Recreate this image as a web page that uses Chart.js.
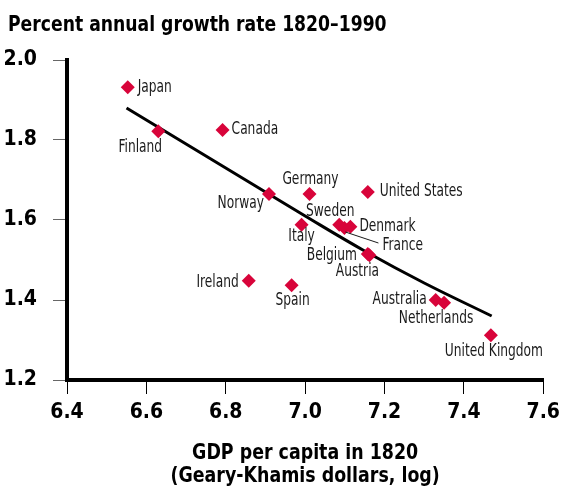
<!DOCTYPE html>
<html>
<head>
<meta charset="utf-8">
<script src="https://cdn.jsdelivr.net/npm/chart.js@4.4.1/dist/chart.umd.min.js"></script>
<style>
  html, body { margin: 0; padding: 0; background: #fff; }
</style>
</head>
<body>
<canvas id="c" width="566" height="489"></canvas>
<script>
// === データ ===
const countries = ["Japan", "Finland", "Canada", "Norway", "Germany", "United States", "Italy",
  "Sweden", "France", "Denmark", "Belgium", "Austria", "Ireland", "Spain",
  "Australia", "Netherlands", "United Kingdom"];
const gdp1820 = [6.553, 6.630, 6.792, 6.909, 7.011, 7.158, 6.991,
  7.086, 7.099, 7.114, 7.158, 7.162, 6.858, 6.966,
  7.329, 7.350, 7.468];
const growth = [1.932, 1.822, 1.825, 1.665, 1.665, 1.670, 1.588,
  1.588, 1.580, 1.583, 1.515, 1.512, 1.448, 1.437,
  1.400, 1.393, 1.312];

// fitted curve
const fitX = [6.55, 6.70, 6.85, 7.00, 7.15, 7.30, 7.47];
const fitY = [1.88, 1.79, 1.70, 1.61, 1.5225, 1.4425, 1.36];

const xTicks = [6.4, 6.6, 6.8, 7.0, 7.2, 7.4, 7.6];
const yTicks = [1.2, 1.4, 1.6, 1.8, 2.0];

const titleText = "Percent annual growth rate 1820\u20131990";
const xTitle = ["GDP per capita in 1820", "(Geary-Khamis dollars, log)"];

// === 見た目 ===
const FONT = '"Liberation Sans Narrow", "DejaVu Sans Condensed", "Liberation Sans", sans-serif';
const RED = "#d8043a";

// label placement relative to the point (px)
const labelPos = {
  "Japan": [10, 0, "left"],
  "Finland": [-18, 16, "center"],
  "Canada": [9, 0, "left"],
  "Norway": [-5, 10, "right"],
  "Germany": [1, -14, "center"],
  "United States": [12, 0, "left"],
  "Italy": [0, 12, "center"],
  "Sweden": [-9, -13, "center"],
  "France": [38, 18, "left"],
  "Denmark": [9, 0, "left"],
  "Belgium": [-36, 2, "center"],
  "Austria": [-12, 16, "center"],
  "Ireland": [-10, 2, "right"],
  "Spain": [1, 15, "center"],
  "Australia": [-9, 0, "right"],
  "Netherlands": [-8, 16, "center"],
  "United Kingdom": [3, 16, "center"]
};

// 横に詰めた文字（細長い書体の代わり）
function narrowText(ctx, text, x, y, align, sx) {
  ctx.save();
  ctx.translate(x, y);
  ctx.scale(sx, 1);
  ctx.textAlign = align;
  ctx.fillText(text, 0, 0);
  ctx.restore();
}

const labelPlugin = {
  id: "labels",
  afterDatasetsDraw(chart) {
    const { ctx, scales: { x, y } } = chart;
    ctx.save();
    ctx.font = "17px " + FONT;
    ctx.fillStyle = "#1a1a1a";
    ctx.textBaseline = "middle";
    countries.forEach((name, i) => {
      const px = x.getPixelForValue(gdp1820[i]);
      const py = y.getPixelForValue(growth[i]);
      const [dx, dy, al] = labelPos[name];
      narrowText(ctx, name, px + dx, py + dy, al, 0.8);
      if (name === "France") {
        ctx.strokeStyle = "#1a1a1a";
        ctx.lineWidth = 1;
        ctx.beginPath();
        ctx.moveTo(px + 1, py + 4);
        ctx.lineTo(px + dx - 4, py + dy - 3);
        ctx.stroke();
      }
    });
    ctx.restore();
  },
  afterDraw(chart) {
    const ctx = chart.ctx;
    const area = chart.chartArea;
    ctx.save();
    ctx.fillStyle = "#000";
    ctx.textBaseline = "alphabetic";
    ctx.font = "bold 22px " + FONT;
    narrowText(ctx, titleText, 8, 31, "left", 0.87);
    ctx.textBaseline = "middle";
    const cx = (area.left + area.right) / 2;
    narrowText(ctx, xTitle[0], cx, area.bottom + 73, "center", 0.88);
    narrowText(ctx, xTitle[1], cx, area.bottom + 96, "center", 0.88);
    ctx.restore();
  }
};

new Chart(document.getElementById("c"), {
  data: {
    datasets: [
      {
        type: "scatter",
        data: gdp1820.map((v, i) => ({ x: v, y: growth[i] })),
        pointStyle: "rectRot",
        pointRadius: 7,
        pointHoverRadius: 7,
        backgroundColor: RED,
        borderColor: RED,
        borderWidth: 0,
        order: 1
      },
      {
        type: "line",
        data: fitX.map((v, i) => ({ x: v, y: fitY[i] })),
        borderColor: "#000",
        borderWidth: 3,
        pointRadius: 0,
        tension: 0.4,
        fill: false,
        order: 2
      }
    ]
  },
  options: {
    responsive: false,
    animation: false,
    layout: { padding: { top: 60, right: 18, left: 0, bottom: 0 } },
    plugins: { legend: { display: false }, tooltip: { enabled: false }, title: { display: false } },
    scales: {
      x: {
        type: "linear",
        min: 6.4, max: 7.6,
        afterBuildTicks: s => { s.ticks = xTicks.map(v => ({ value: v })); },
        afterFit: s => { s.height = 109; },
        ticks: {
          callback: v => v.toFixed(1),
          font: { family: FONT, size: 21, weight: "bold" },
          color: "#000",
          padding: 6,
          maxRotation: 0
        },
        grid: { drawOnChartArea: false, drawTicks: true, tickLength: 14, color: "#000", lineWidth: 1 },
        border: { display: true, width: 4, color: "#000" }
      },
      y: {
        type: "linear",
        min: 1.2, max: 2.0,
        afterBuildTicks: s => { s.ticks = yTicks.map(v => ({ value: v })); },
        afterFit: s => { s.width = 67; },
        ticks: {
          callback: v => v.toFixed(1),
          font: { family: FONT, size: 21, weight: "bold" },
          color: "#000",
          padding: 16
        },
        grid: { drawOnChartArea: false, drawTicks: true, tickLength: 14, color: "#666", lineWidth: 1 },
        border: { display: true, width: 4, color: "#000" }
      }
    }
  },
  plugins: [labelPlugin]
});
</script>
</body>
</html>
